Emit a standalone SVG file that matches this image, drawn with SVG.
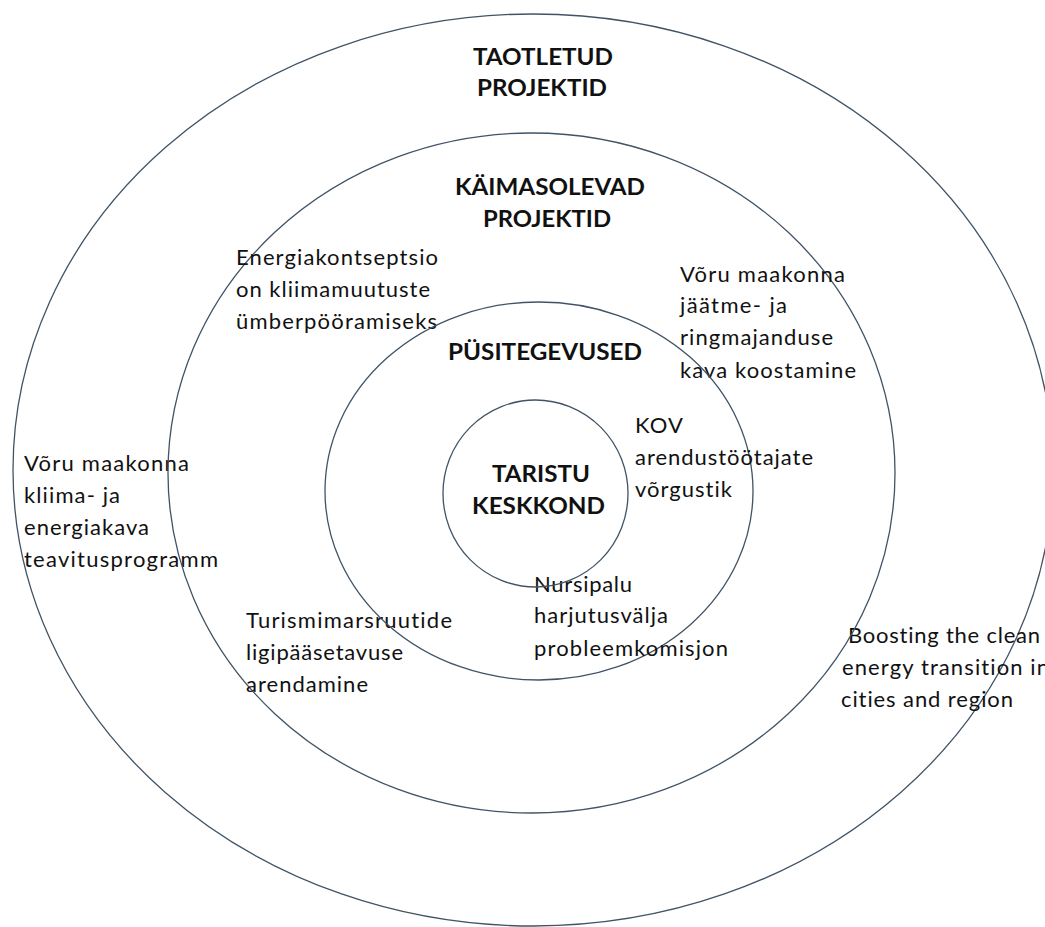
<svg xmlns="http://www.w3.org/2000/svg" width="1045" height="927" viewBox="0 0 1045 927">
  <style>
    .ring { fill: none; stroke: #405466; stroke-width: 1.3; }
    .head { font-family: Lato, "Open Sans", "Liberation Sans", sans-serif; font-weight: 700; font-size: 23px; fill: #111; font-variant-ligatures: none; }
    .item { font-family: Lato, "Open Sans", "Liberation Sans", sans-serif; font-size: 22px; fill: #111; font-variant-ligatures: none; }
  </style>
  <rect width="1045" height="927" fill="#ffffff"/>

  <!-- outer ring: applied projects -->
  <g id="ring-taotletud">
    <ellipse class="ring" cx="533" cy="470" rx="520" ry="456"/>
    <text class="head" x="473" y="65" textLength="140" lengthAdjust="spacingAndGlyphs">TAOTLETUD</text>
    <text class="head" x="477" y="96" textLength="130" lengthAdjust="spacingAndGlyphs">PROJEKTID</text>
    <text class="item" x="24" y="471" textLength="165" lengthAdjust="spacing">Võru maakonna</text>
    <text class="item" x="24" y="503" textLength="96" lengthAdjust="spacing">kliima-  ja</text>
    <text class="item" x="24" y="535" textLength="125" lengthAdjust="spacing">energiakava</text>
    <text class="item" x="24" y="567" textLength="194" lengthAdjust="spacing">teavitusprogramm</text>
    <text class="item" x="848" y="643" textLength="192" lengthAdjust="spacing">Boosting the clean</text>
    <text class="item" x="842" y="675" textLength="207" lengthAdjust="spacing">energy transition in</text>
    <text class="item" x="841" y="707" textLength="172" lengthAdjust="spacing">cities and region</text>
  </g>

  <!-- second ring: ongoing projects -->
  <g id="ring-kaimasolevad">
    <ellipse class="ring" cx="531.5" cy="473" rx="363.5" ry="340"/>
    <text class="head" x="455" y="195" textLength="190" lengthAdjust="spacingAndGlyphs">KÄIMASOLEVAD</text>
    <text class="head" x="483" y="227" textLength="128" lengthAdjust="spacingAndGlyphs">PROJEKTID</text>
    <text class="item" x="236" y="265" textLength="202" lengthAdjust="spacing">Energiakontseptsio</text>
    <text class="item" x="236" y="297" textLength="194" lengthAdjust="spacing">on kliimamuutuste</text>
    <text class="item" x="236" y="329" textLength="201" lengthAdjust="spacing">ümberpööramiseks</text>
    <text class="item" x="680" y="282" textLength="165" lengthAdjust="spacing">Võru maakonna</text>
    <text class="item" x="680" y="313" textLength="107" lengthAdjust="spacing">jäätme-  ja</text>
    <text class="item" x="680" y="345" textLength="153" lengthAdjust="spacing">ringmajanduse</text>
    <text class="item" x="680" y="378" textLength="176" lengthAdjust="spacing">kava koostamine</text>
    <text class="item" x="246" y="628" textLength="206" lengthAdjust="spacing">Turismimarsruutide</text>
    <text class="item" x="246" y="660" textLength="157" lengthAdjust="spacing">ligipääsetavuse</text>
    <text class="item" x="246" y="692" textLength="122" lengthAdjust="spacing">arendamine</text>
  </g>

  <!-- third ring: permanent activities -->
  <g id="ring-pusitegevused">
    <ellipse class="ring" cx="539" cy="491" rx="214" ry="189"/>
    <text class="head" x="448" y="360" textLength="194" lengthAdjust="spacingAndGlyphs">PÜSITEGEVUSED</text>
    <text class="item" x="635" y="433" textLength="48" lengthAdjust="spacing">KOV</text>
    <text class="item" x="635" y="465" textLength="178" lengthAdjust="spacing">arendustöötajate</text>
    <text class="item" x="635" y="497" textLength="97" lengthAdjust="spacing">võrgustik</text>
    <text class="item" x="534" y="592" textLength="98" lengthAdjust="spacing">Nursipalu</text>
    <text class="item" x="534" y="623" textLength="134" lengthAdjust="spacing">harjutusvälja</text>
    <text class="item" x="534" y="656" textLength="194" lengthAdjust="spacing">probleemkomisjon</text>
  </g>

  <!-- core: infrastructure and environment -->
  <g id="core-taristu">
    <ellipse class="ring" cx="535.5" cy="493.5" rx="92.5" ry="93.5"/>
    <text class="head" x="492" y="482" textLength="98" lengthAdjust="spacingAndGlyphs">TARISTU</text>
    <text class="head" x="472" y="514" textLength="133" lengthAdjust="spacingAndGlyphs">KESKKOND</text>
  </g>
</svg>
